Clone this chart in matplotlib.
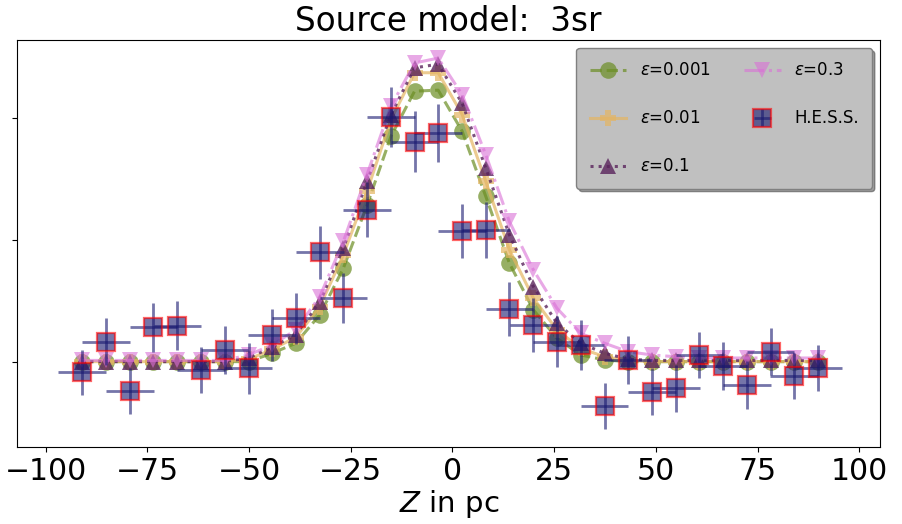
import numpy as np
import matplotlib.pyplot as plt

# Z bins in pc
z = [-91.0, -85.2, -79.3, -73.5, -67.6, -61.8, -56.0, -50.1, -44.3, -38.5,
     -32.6, -26.8, -21.0, -15.1, -9.3, -3.5, 2.4, 8.2, 14.0, 19.9,
     25.7, 31.5, 37.4, 43.2, 49.0, 54.9, 60.7, 66.5, 72.4, 78.2, 84.0, 89.9]

# model profiles (arbitrary units)
eps_001 = [0.0, 0.0, 0.0, 0.0, 0.0, 0.0, 0.0, 0.0, 0.069, 0.151,
           0.384, 0.767, 1.282, 1.849, 2.219, 2.227, 1.89, 1.356, 0.808, 0.425,
           0.192, 0.055, 0.014, 0.0, 0.0, 0.0, 0.0, 0.0, 0.0, 0.0, 0.0, 0.0]
eps_01 = [0.0, 0.0, 0.0, 0.0, 0.0, 0.0, 0.0, 0.02, 0.10, 0.20,
          0.45, 0.877, 1.397, 1.986, 2.37, 2.37, 2.027, 1.479, 0.918, 0.521,
          0.26, 0.11, 0.04, 0.01, 0.0, 0.0, 0.0, 0.0, 0.0, 0.0, 0.0, 0.0]
eps_1 = [0.0, 0.0, 0.0, 0.0, 0.0, 0.0, 0.0, 0.03, 0.12, 0.22,
         0.49, 0.932, 1.479, 2.027, 2.41, 2.44, 2.12, 1.589, 1.041, 0.616,
         0.315, 0.151, 0.069, 0.02, 0.01, 0.01, 0.01, 0.01, 0.01, 0.01, 0.01, 0.01]
eps_3 = [0.01, 0.01, 0.01, 0.01, 0.01, 0.01, 0.01, 0.055, 0.137, 0.26,
         0.534, 0.986, 1.534, 2.095, 2.45, 2.49, 2.19, 1.698, 1.15, 0.753,
         0.438, 0.233, 0.151, 0.082, 0.055, 0.04, 0.03, 0.03, 0.03, 0.03, 0.03, 0.03]

# H.E.S.S. data
hess = [-0.087, 0.164, -0.241, 0.283, 0.296, -0.068, 0.096, -0.054, 0.219, 0.357,
        0.896, 0.521, 1.247, 2.005, 1.803, 1.877, 1.074, 1.082, 0.431, 0.302,
        0.164, 0.137, -0.364, 0.014, -0.246, -0.219, 0.055, -0.035, -0.191, 0.082,
        -0.117, -0.054]
hess_err = [0.185, 0.19, 0.185, 0.2, 0.2, 0.19, 0.2, 0.21, 0.21, 0.21,
            0.22, 0.205, 0.225, 0.246, 0.25, 0.24, 0.22, 0.23, 0.22, 0.22,
            0.21, 0.205, 0.19, 0.2, 0.195, 0.195, 0.19, 0.195, 0.195, 0.195,
            0.19, 0.19]
z_err = 5.85

fig = plt.figure(figsize=(9.02, 5.24), dpi=100)
ax = fig.add_axes([0.019, 0.147, 0.957, 0.777])

ax.plot(z, eps_001, '--o', color='olivedrab', alpha=0.7, lw=2.2, ms=12, mew=0,
        label=r'$\varepsilon$=0.001')
ax.plot(z, eps_01, '-P', color='#e4b562', alpha=0.7, lw=2.2, ms=12, mew=0,
        label=r'$\varepsilon$=0.01')
ax.plot(z, eps_1, ':^', color='#5a245c', alpha=0.8, lw=2.2, ms=12, mew=0,
        label=r'$\varepsilon$=0.1')
ax.plot(z, eps_3, '-.v', color='orchid', alpha=0.6, lw=2.2, ms=12, mew=0,
        label=r'$\varepsilon$=0.3')
ax.errorbar(z, hess, xerr=z_err, yerr=hess_err, fmt='s', ms=13,
            mfc='midnightblue', mec='red', mew=1.6, ecolor='midnightblue',
            elinewidth=2, alpha=0.6, label='H.E.S.S.')

ax.set_xlim(-107, 105.2)
ax.set_ylim(-0.70, 2.64)
ax.set_yticks([0, 1, 2])
ax.set_yticklabels([])
ax.set_xticks([-100, -75, -50, -25, 0, 25, 50, 75, 100])
ax.tick_params(axis='x', labelsize=21.5)
ax.set_xlabel(r'$Z$ in pc', fontsize=21, labelpad=2)
ax.set_title('Source model:  3sr', fontsize=23.5)

ax.legend(loc='upper right', ncol=2, fontsize=12, labelspacing=1.8,
          facecolor='silver', edgecolor='gray', framealpha=1, shadow=True,
          borderpad=0.8, handlelength=2.2)

fig.savefig('out.png', dpi=100)
